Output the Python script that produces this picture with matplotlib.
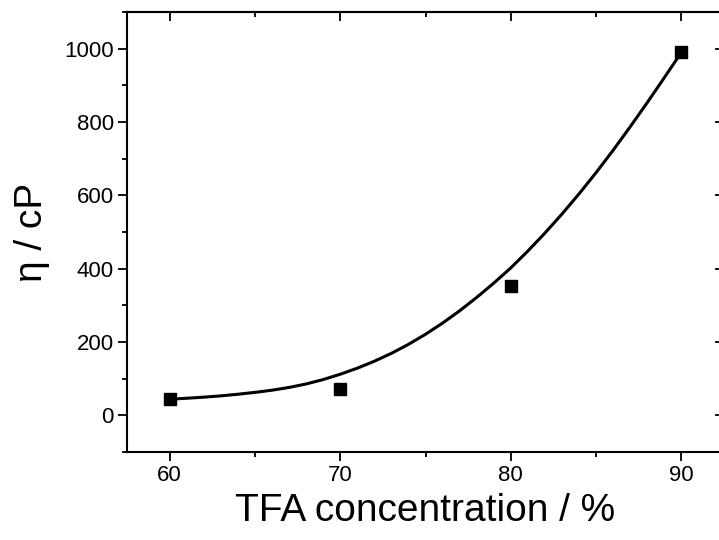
import numpy as np
import matplotlib
matplotlib.use("Agg")
from matplotlib import pyplot as plt
from matplotlib.ticker import MultipleLocator

plt.rcParams['font.family'] = ['Liberation Sans', 'DejaVu Sans']

# measured viscosity vs TFA concentration
tfa = [60, 70, 80, 90]
visc = [44, 72, 354, 990]

# fitted curve, read at 1 % steps
fit_x = list(range(60, 91))
fit_y = [44, 46.5, 49.5, 53, 57.5, 62.5, 68.5, 76, 85.5, 97.5,
         112, 128.5, 147.5, 169, 193.5, 221, 251.5, 285, 321.5, 360.5,
         402, 448, 497, 549, 604, 662, 723, 787, 853, 921,
         990]

fig = plt.figure(figsize=(7.19, 5.4), dpi=100)
ax = fig.add_axes([0.1766, 0.163, 0.8304, 0.8148])

ax.plot(fit_x, fit_y, color='black', lw=2.2, zorder=2, solid_joinstyle='round')
ax.plot(tfa, visc, 's', color='black', ms=8.8, zorder=3)

ax.set_xlim(57.5, 92.5)
ax.set_ylim(-100, 1100)
ax.xaxis.set_major_locator(MultipleLocator(10))
ax.xaxis.set_minor_locator(MultipleLocator(5))
ax.yaxis.set_major_locator(MultipleLocator(200))
ax.yaxis.set_minor_locator(MultipleLocator(100))

for s in ax.spines.values():
    s.set_linewidth(1.5)

ax.tick_params(which='both', labelsize=16, width=1.3, pad=3)
ax.tick_params(which='major', length=6.5)
ax.tick_params(which='minor', length=3.5)
ax.tick_params(axis='x', which='both', direction='out', top=False)
ax.tick_params(axis='y', which='both', direction='out', right=False)

# inward ticks on top and right sides
top = ax.secondary_xaxis('top')
top.set_xticks(np.arange(60, 91, 10))
top.xaxis.set_minor_locator(MultipleLocator(5))
top.tick_params(which='both', direction='in', labeltop=False, width=1.3)
top.tick_params(which='major', length=6.5)
top.tick_params(which='minor', length=3.5)
top.spines['top'].set_linewidth(1.5)

right = ax.secondary_yaxis('right')
right.set_yticks(np.arange(0, 1001, 200))
right.yaxis.set_minor_locator(MultipleLocator(100))
right.tick_params(which='both', direction='in', labelright=False, width=1.3)
right.tick_params(which='major', length=6.5)
right.tick_params(which='minor', length=3.5)
right.spines['right'].set_linewidth(1.5)

ax.set_xlabel('TFA concentration / %', fontsize=28, labelpad=5)
ax.set_ylabel('η / cP', fontsize=28, labelpad=10)

fig.savefig('out.png', dpi=100)
